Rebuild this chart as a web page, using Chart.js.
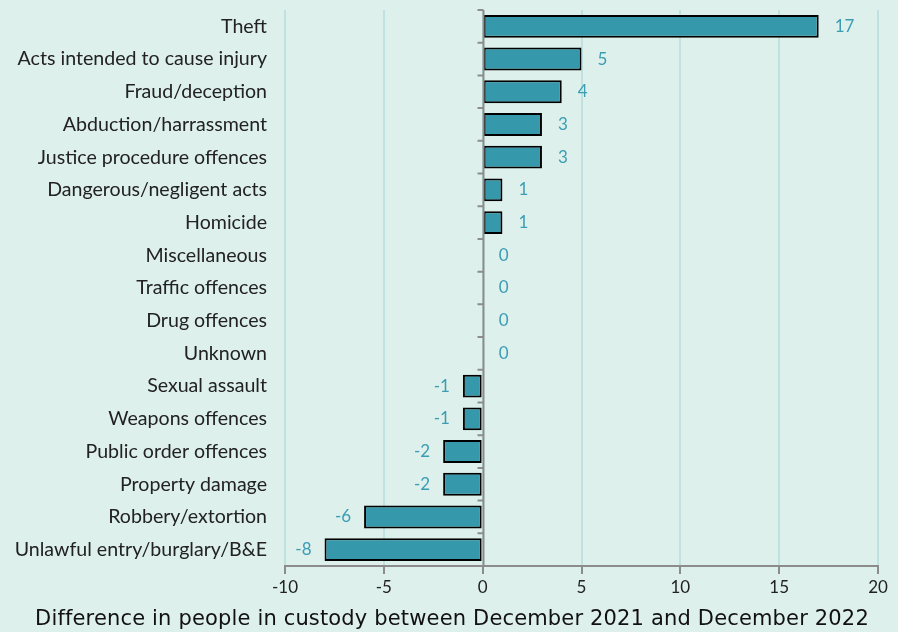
<!DOCTYPE html>
<html>
<head>
<meta charset="utf-8">
<script src="https://cdn.jsdelivr.net/npm/chart.js@4.4.1/dist/chart.umd.min.js"></script>
<style>
  html, body { margin: 0; padding: 0; background: #ddf0eb; }
  #wrap { width: 898px; height: 632px; }
</style>
</head>
<body>
<div id="wrap"><canvas id="chart"></canvas></div>
<script>
// Offence categories, top to bottom
const categories = [
    'Theft', 'Acts intended to cause injury', 'Fraud/deception', 'Abduction/harrassment',
    'Justice procedure offences', 'Dangerous/negligent acts', 'Homicide', 'Miscellaneous',
    'Traffic offences', 'Drug offences', 'Unknown', 'Sexual assault', 'Weapons offences',
    'Public order offences', 'Property damage', 'Robbery/extortion', 'Unlawful entry/burglary/B&E',
];
const differences = [17, 5, 4, 3, 3, 1, 1, 0, 0, 0, 0, -1, -1, -2, -2, -6, -8];
const xTicks = [-10, -5, 0, 5, 10, 15, 20];
const axisTitle = 'Difference in people in custody between December 2021 and December 2022';

const BAR = '#3598ab';
const LABEL = '#3a9db3';
const GRID = '#bfe1e0';
const AXIS = '#8c8c8c';

// value labels next to bar ends
const valueLabels = {
    id: 'valueLabels',
    afterDatasetsDraw(chart) {
        const { ctx } = chart;
        const meta = chart.getDatasetMeta(0);
        const x = chart.scales.x;
        ctx.save();
        ctx.font = '17px Lato';
        ctx.fillStyle = LABEL;
        ctx.textBaseline = 'middle';
        meta.data.forEach((bar, i) => {
            const v = differences[i];
            const px = x.getPixelForValue(v);
            if (v < 0) {
                ctx.textAlign = 'right';
                ctx.fillText(String(v), px - 13, bar.y);
            } else {
                ctx.textAlign = 'left';
                ctx.fillText(String(v), px + 16, bar.y);
            }
        });
        ctx.restore();
    }
};

// gray zero line with small category tick marks
const zeroAxis = {
    id: 'zeroAxis',
    afterDatasetsDraw(chart) {
        const { ctx, chartArea } = chart;
        const x0 = Math.round(chart.scales.x.getPixelForValue(0)) + 0.5;
        const band = (chartArea.bottom - chartArea.top) / categories.length;
        ctx.save();
        ctx.strokeStyle = AXIS;
        ctx.lineWidth = 2;
        ctx.beginPath();
        ctx.moveTo(x0, chartArea.top);
        ctx.lineTo(x0, chartArea.bottom);
        for (let i = 0; i <= categories.length; i++) {
            const ty = chartArea.top + i * band;
            ctx.moveTo(x0 - 6, ty);
            ctx.lineTo(x0, ty);
        }
        ctx.stroke();
        ctx.restore();
    }
};

// x axis title, centred on the whole canvas
const bottomTitle = {
    id: 'bottomTitle',
    afterDraw(chart) {
        const { ctx, width } = chart;
        ctx.save();
        ctx.font = '21px "DejaVu Sans"';
        const natural = ctx.measureText(axisTitle).width;
        const spacing = (833 - natural) / (axisTitle.length - 1);
        ctx.letterSpacing = spacing.toFixed(2) + 'px';
        ctx.fillStyle = '#111';
        ctx.textAlign = 'center';
        ctx.textBaseline = 'middle';
        ctx.fillText(axisTitle, width / 2 + 3, 620);
        ctx.restore();
    }
};

new Chart(document.getElementById('chart'), {
    type: 'bar',
    data: {
        labels: categories,
        datasets: [{
            data: differences,
            backgroundColor: BAR,
            borderColor: '#000000',
            borderWidth: 2,
            borderSkipped: false,
            barPercentage: 0.7,
            categoryPercentage: 1,
        }],
    },
    options: {
        indexAxis: 'y',
        responsive: true,
        maintainAspectRatio: false,
        animation: false,
        layout: { padding: { top: 10, right: 20, left: 0, bottom: 0 } },
        plugins: {
            legend: { display: false },
            tooltip: { enabled: false },
        },
        scales: {
            x: {
                min: -10,
                max: 20,
                afterBuildTicks: (scale) => { scale.ticks = xTicks.map(v => ({ value: v })); },
                grid: {
                    color: GRID,
                    lineWidth: 2,
                    drawTicks: true,
                    tickLength: 8,
                    tickColor: AXIS,
                },
                border: { display: true, color: AXIS, width: 2 },
                ticks: { color: '#222', font: { family: 'Lato', size: 17 }, padding: 3 },
                afterFit: (scale) => { scale.height = 66; },
            },
            y: {
                grid: { display: false, drawTicks: false },
                border: { display: false },
                ticks: { color: '#222', font: { family: 'Lato', size: 19.6 }, padding: 18, autoSkip: false },
                afterFit: (scale) => { scale.width = 285; scale.paddingTop = 0; scale.paddingBottom = 0; },
            },
        },
    },
    plugins: [valueLabels, zeroAxis, bottomTitle],
});
</script>
</body>
</html>
